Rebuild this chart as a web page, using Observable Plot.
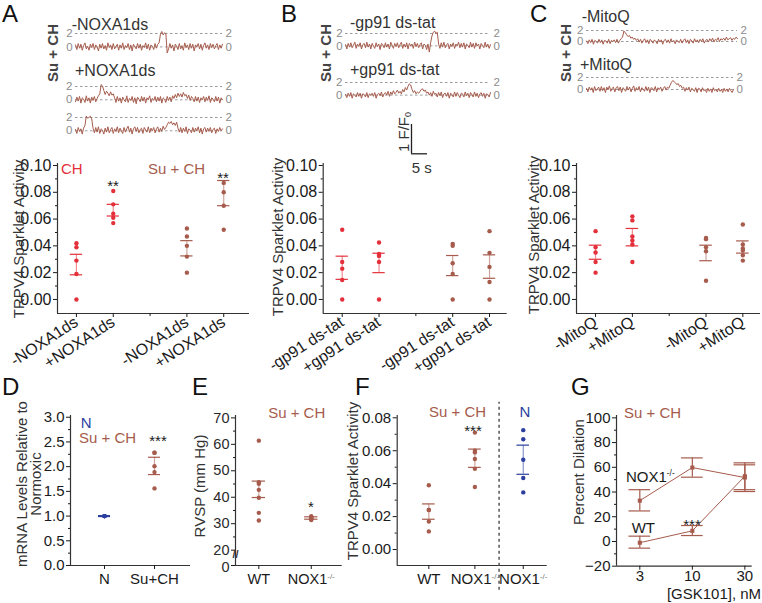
<!DOCTYPE html>
<html><head><meta charset="utf-8">
<script src="https://cdn.jsdelivr.net/npm/d3@7"></script>
<script src="https://cdn.jsdelivr.net/npm/@observablehq/plot@0.6"></script>
<style>
body{margin:0;background:#fff;font-family:"Liberation Sans",Arial,Helvetica,sans-serif;}
#fig{position:relative;width:762px;height:603px;overflow:hidden;background:#fff;}
#fig svg{position:absolute;overflow:visible;background:none !important;}
.lab{position:absolute;white-space:nowrap;line-height:1;pointer-events:none;}
.lab sup{font-size:0.55em;vertical-align:0.7em;line-height:0;}
.lab sub{font-size:0.6em;vertical-align:-0.25em;line-height:0;}
</style></head><body><div id="fig"></div>
<script>
// ---------------- DATA ----------------
const RED = "#e4303a", BROWN = "#a65b4c", BLUE = "#2c3f9e", INK = "#1a1a1a", TGRAY = "#8c8c8c";

// sparklet traces (F/F0)
const traceTicks = [0, 2];
const traceA1 = [0.3,-0.4,0.5,-0.2,0.4,-0.5,0.2,0.6,-0.3,0.1, -0.5,0.4,-0.1,0.5,-0.4,0.3,0.0,-0.6,0.4,-0.2, 0.5,-0.3,0.2,-0.5,0.6,-0.1,0.3,-0.4,0.5,-0.3, 0.1,0.4,-0.5,0.3,-0.2,0.6,-0.4,0.2,-0.1,0.5, -0.4,0.3,-0.6,0.4,0.0,-0.3,0.5,-0.2,0.4,-0.5, 0.2,-0.1,0.6,-0.3,0.4,-0.5,0.3,0.1,-0.4,0.5, -0.2,0.4,0.6,1.9,2.3,1.8,2.1,2.0,-0.9,-0.3, 0.5,-0.2,0.3,-0.6,0.4,0.1,-0.4,0.5,-0.3,0.2, -0.5,0.6,-0.1,0.3,-0.4,0.5,-0.2,0.4,-0.6,0.3, 0.0,0.5,-0.3,0.4,-0.5,0.2,0.6,-0.2,0.3,-0.4, 0.5,-0.1,0.4,-0.3,0.2,0.5,-0.4,0.3,-0.2,0.4];
const traceA2 = [-0.3,0.4,-0.2,0.5,-0.5,0.3,0.1,-0.4,0.6,-0.2, 0.3,-0.5,0.4,-0.1,0.5,-0.3,0.2,0.6,0.9,2.3, 2.1,1.4,0.8,1.3,1.0,0.6,1.2,0.7,0.9,0.3, -0.4,0.5,-0.2,0.3,-0.5,0.4,0.0,-0.3,0.6,-0.4, 0.2,-0.1,0.5,-0.4,0.3,-0.6,0.4,0.1,-0.3,0.5, -0.2,0.4,-0.5,0.3,0.0,0.6,-0.4,0.2,-0.1,0.5, -0.3,0.4,-0.2,0.5,-0.5,0.3,0.1,-0.4,0.5,-0.1, 0.4,-0.3,0.6,0.2,0.8,0.3,1.0,0.5,0.9,0.4, 1.1,0.6,0.8,0.2,0.7,-0.1,0.5,0.2,-0.3,0.5, -0.2,0.4,-0.4,0.3,0.0,0.5,-0.3,0.4,-0.1,0.6, -0.4,0.3,0.1,-0.3,0.5,-0.2,0.4,-0.5,0.3,0.0];
const traceA3 = [0.2,-0.4,0.5,-0.1,0.3,-0.5,0.4,0.8,2.2,1.9, 2.0,2.2,1.8,0.4,-0.3,0.5,-0.2,0.6,-0.4,0.3, 0.1,-0.5,0.4,-0.2,0.6,-0.3,0.2,0.5,-0.4,0.3, -0.1,0.6,-0.3,0.4,0.0,-0.4,0.5,-0.2,0.3,0.7, -0.2,0.4,-0.5,0.3,0.6,-0.1,0.5,-0.3,0.2,0.4, -0.4,0.5,0.1,-0.2,0.6,-0.3,0.4,0.0,0.5,-0.3, 0.3,0.6,-0.2,0.4,-0.1,0.7,0.2,0.5,0.9,1.3, 1.1,1.4,0.9,1.2,0.8,1.3,0.4,-0.2,0.5,-0.3, 0.4,-0.1,0.6,-0.4,0.3,0.1,-0.3,0.5,-0.2,0.4, 0.0,0.6,-0.3,0.4,-0.5,0.3,0.5,-0.2,0.4,-0.1, 0.5,-0.3,0.2,0.4,-0.4,0.3,-0.1,0.5,0.0,0.3];
const traceB1 = [0.2,-0.5,0.4,-0.2,0.5,-0.3,0.1,0.6,-0.4,0.3, -0.1,0.5,-0.5,0.2,0.4,-0.3,0.6,-0.2,0.3,-0.5, 0.4,0.0,-0.4,0.5,-0.1,0.3,-0.6,0.4,0.2,-0.3, 0.5,-0.2,0.3,-0.5,0.6,0.1,-0.4,0.4,-0.1,0.5, -0.3,0.2,0.6,-0.4,0.3,-0.2,0.5,-0.5,0.4,0.0, 0.3,-0.4,0.6,-0.1,0.4,-0.3,0.2,0.5,-0.5,0.3, 0.1,-0.6,0.3,-1.0,0.5,1.6,2.2,2.4,2.0,2.2, 0.3,-0.4,0.5,-0.2,0.6,-0.3,0.2,0.4,-0.5,0.3, -0.1,0.5,-0.4,0.3,0.0,0.6,-0.3,0.4,-0.2,0.5, -0.5,0.3,0.1,-0.3,0.6,-0.2,0.4,-0.4,0.5,0.0, 0.3,-0.5,0.4,0.1,-0.3,0.6,-0.2,0.3,-0.4,0.2];
const traceB2 = [0.1,-0.4,0.3,-0.2,0.4,-0.5,0.2,0.0,-0.3,0.4, -0.2,0.3,-0.5,0.2,0.1,-0.3,0.4,-0.4,0.2,0.0, 0.3,-0.2,0.4,-0.5,0.1,0.3,-0.1,0.5,-0.3,0.2, 0.4,0.0,0.6,-0.2,0.5,0.1,0.7,0.2,0.4,0.8, 0.3,0.6,0.2,0.9,0.5,1.2,0.8,1.4,1.8,1.6, 0.9,0.4,0.7,0.2,0.5,0.3,0.6,0.9,1.0,0.6, 0.8,0.3,0.5,0.0,0.4,-0.2,0.6,0.1,0.3,-0.3, 0.4,-0.1,0.5,-0.4,0.2,0.3,-0.2,0.4,-0.5,0.3, 0.1,-0.3,0.5,-0.2,0.4,0.0,-0.4,0.3,0.2,-0.3, 0.5,-0.1,0.3,-0.4,0.4,0.1,-0.3,0.5,-0.2,0.3, -0.4,0.2,0.4,-0.2,0.3,-0.5,0.2,0.1,-0.3,0.4];
const traceC1 = [0.1,-0.4,0.3,-0.2,0.4,-0.5,0.2,0.0,-0.3,0.4, -0.2,0.3,-0.5,0.2,0.1,-0.3,0.4,-0.4,0.2,0.0, 0.3,-0.2,0.4,-0.3,0.2,0.5,0.8,1.9,1.6,1.2, 0.9,1.1,0.6,0.8,0.4,0.6,0.2,0.5,-0.1,0.4, -0.3,0.2,0.5,-0.2,0.3,-0.4,0.4,0.1,-0.3,0.3, 0.0,-0.4,0.4,-0.1,0.3,-0.5,0.2,0.4,-0.2,0.3, -0.3,0.5,-0.1,0.2,-0.4,0.3,0.0,-0.2,0.4,-0.3, 0.2,0.5,-0.2,0.3,-0.4,0.4,0.1,-0.3,0.5,-0.1, 0.3,-0.2,0.4,0.0,0.5,-0.3,0.2,0.4,-0.1,0.5, 0.1,0.6,-0.1,0.4,0.2,0.7,0.0,0.5,0.3,0.6, 0.2,0.8,0.3,0.5,0.7,0.2,0.6,0.4,0.8,0.5];
const traceC2 = [0.2,-0.4,0.4,-0.1,0.3,-0.5,0.5,-0.2,0.1,0.4, -0.3,0.5,-0.2,0.3,-0.5,0.4,0.0,0.6,-0.3,0.2, 0.4,-0.4,0.3,0.5,-0.2,0.4,-0.5,0.3,0.1,-0.3, 0.5,-0.1,0.4,-0.4,0.2,0.6,-0.3,0.3,-0.1,0.5, -0.4,0.3,0.1,-0.3,0.5,-0.2,0.4,-0.5,0.3,0.2, -0.2,0.5,-0.4,0.3,0.0,0.4,-0.3,0.2,0.5,-0.1, 0.4,0.2,0.7,1.2,1.5,1.3,1.1,0.8,1.0,0.5, 0.7,0.2,0.4,-0.3,0.3,-0.1,0.4,-0.4,0.2,0.0, -0.3,0.3,-0.5,0.2,0.1,-0.4,0.3,-0.2,0.0,-0.5, 0.2,-0.3,0.1,-0.5,0.3,-0.2,0.0,-0.4,0.2,-0.3, 0.0,-0.5,0.2,-0.3,0.1,-0.4,0.2,-0.2,-0.5,0.0];
const scaleBarF = 1, scaleBarS = 5;

// Panel A
const aX = [1, 2, 4, 5];
const aLabels = ["-NOXA1ds", "+NOXA1ds", "-NOXA1ds", "+NOXA1ds"];
const aColors = [RED, RED, BROWN, BROWN];
const aPoints = [[0.042,0.039,0.029,0.019,0.000],[0.081,0.071,0.064,0.061,0.057],[0.053,0.047,0.040,0.032,0.020],[0.087,0.080,0.070,0.052]];
const aLo = [0.0184, 0.0623, 0.0325, 0.070];
const aHi = [0.0337, 0.071, 0.0439, 0.0888];
// Panel B
const bX = [1, 2, 4, 5];
const bLabels = ["-gp91 ds-tat", "+gp91 ds-tat", "-gp91 ds-tat", "+gp91 ds-tat"];
const bColors = [RED, RED, BROWN, BROWN];
const bPoints = [[0.052,0.028,0.023,0.0145,0],[0.0425,0.034,0.0325,0.028,0],[0.0415,0.040,0.027,0.019,0],[0.051,0.0348,0.0243,0.013,0]];
const bLo = [0.015, 0.020, 0.0178, 0.0158];
const bHi = [0.0323, 0.0345, 0.0328, 0.0333];
// Panel C
const cX = [1, 2, 4, 5];
const cLabels = ["-MitoQ", "+MitoQ", "-MitoQ", "+MitoQ"];
const cColors = [RED, RED, BROWN, BROWN];
const cPoints = [[0.051,0.039,0.035,0.028,0.020],[0.062,0.059,0.047,0.044,0.041,0.028],[0.046,0.045,0.039,0.036,0.014],[0.056,0.041,0.038,0.0365,0.033,0.029]];
const cLo = [0.030, 0.040, 0.0289, 0.0346];
const cHi = [0.0405, 0.053, 0.0405, 0.0437];
const sparkTicks = [0, 0.02, 0.04, 0.06, 0.08, 0.10];
const sparkMinor = [0.01, 0.03, 0.05, 0.07, 0.09];
// Panel D
const dX = [0, 1];
const dLabels = ["N", "Su+CH"];
const dColors = [BLUE, BROWN];
const dPoints = [[1.0,1.0,1.0,1.0,1.0],[2.28,2.28,2.01,1.89,1.56]];
const dLo = [0.99, 1.84];
const dHi = [1.01, 2.19];
const dTicks = [0, 0.5, 1.0, 1.5, 2.0, 2.5, 3.0];
const dMinor = [0.25, 0.75, 1.25, 1.75, 2.25, 2.75];
// Panel E (axis broken between 0 and 20)
const eX = [0, 1];
const eLabels = ["WT", "NOX1-/-"];
const eColors = [BROWN, BROWN];
const ePoints = [[61.4,45.7,45.1,42.8,39.8,34.1,31.2],[32.8,32.5,32.2,32.0,31.7,31.4]];
const eLo = [39.9, 31.7];
const eHi = [46.1, 32.6];
const eTicks = [20, 30, 40, 50, 60, 70];
const eMinor = [25, 35, 45, 55, 65];
const eZeroAt = 14.2;   // axis origin, labelled "0" below the break
const eBreakAt = 18.3;
// Panel F
const fX = [1, 2, 3.05];
const fLabels = ["WT", "NOX1-/-", "NOX1-/-"];
const fColors = [BROWN, BROWN, BLUE];
const fPoints = [[0.039,0.024,0.024,0.017,0.011],[0.071,0.060,0.059,0.055,0.049,0.038],[0.0725,0.067,0.0545,0.0434,0.0347]];
const fLo = [0.0184, 0.0499, 0.0457];
const fHi = [0.0277, 0.061, 0.0634];
const fTicks = [0, 0.02, 0.04, 0.06, 0.08];
const fMinor = [0.01, 0.03, 0.05, 0.07];
// Panel G
const gDose = ["3", "10", "30"];
const gWT = [-1, 8.6, 52.8];
const gWTlo = [-5.4, 4.8, 40.4];
const gWThi = [4.3, 12.9, 63.6];
const gNOX = [33, 59.8, 51.7];
const gNOXlo = [24.7, 52, 41.9];
const gNOXhi = [41.9, 67.6, 62];
const gTicks = [-20, 0, 20, 40, 60, 80, 100];
const gMinor = [-10, 10, 30, 50, 70, 90];

// ---------------- HELPERS ----------------
const FONT = '"Liberation Sans", Arial, Helvetica, sans-serif';
const fig = document.getElementById("fig");
function style(size) {
  return {background: "none", fontFamily: FONT, fontSize: size + "px", color: INK, overflow: "visible"};
}
function place(node, left, top) {
  node.style.position = "absolute";
  node.style.left = left + "px";
  node.style.top = top + "px";
  node.style.background = "none";
  fig.appendChild(node);
}
function label(html, x, y, o = {}) {
  const d = document.createElement("div");
  d.className = "lab";
  d.innerHTML = html;
  d.style.fontSize = (o.size || 15) + "px";
  d.style.color = o.color || INK;
  d.style.fontWeight = o.weight || "normal";
  if (o.lh) { d.style.lineHeight = o.lh; d.style.textAlign = "center"; }
  const a = o.anchor || "start";
  const tx = a === "start" ? "0%" : a === "middle" ? "-50%" : "-100%";
  d.style.left = x + "px";
  d.style.top = y + "px";
  d.style.transform = `translate(${tx},-50%)` + (o.rotate ? ` rotate(${o.rotate}deg)` : "");
  fig.appendChild(d);
}
function supFix(svg) {
  svg.querySelectorAll("text").forEach(t => {
    if (t.textContent === "NOX1-/-") {
      t.textContent = "NOX1";
      const ts = document.createElementNS("http://www.w3.org/2000/svg", "tspan");
      ts.setAttribute("dy", "-0.6em");
      ts.setAttribute("font-size", "8");
      ts.setAttribute("fill", "#777");
      ts.textContent = "-/-";
      t.appendChild(ts);
    }
  });
}
function tracePlot(vals, x0, x1, y2, y0) {
  const pad = 18, n = vals.length;
  const w = (x1 - x0) + 2 * pad, h = (y0 - y2) + 20;
  const svg = Plot.plot({
    width: w, height: h, margin: 0, style: style(11),
    x: {domain: [0, n - 1], range: [pad, pad + x1 - x0], axis: null},
    y: {domain: [0, 2], range: [10 + (y0 - y2), 10], axis: null},
    marks: [
      Plot.ruleY(traceTicks, {y: d => d, x1: () => 0, x2: () => n - 1, stroke: "#9a9a9a", strokeDasharray: "2.5,2.5"}),
      Plot.text(traceTicks, {y: d => d, x: () => 0, text: d => String(d), textAnchor: "end", dx: -3, fill: TGRAY, fontSize: 11.5}),
      Plot.text(traceTicks, {y: d => d, x: () => n - 1, text: d => String(d), textAnchor: "start", dx: 3, fill: TGRAY, fontSize: 11.5}),
      Plot.line(vals, {x: (d, i) => i, y: d => d, stroke: BROWN, strokeWidth: 1})
    ]
  });
  place(svg, x0 - pad, y2 - 10);
}
function scatter(c) {
  const pts = c.points.flatMap((arr, i) => arr.map(v => ({x: c.xs[i], y: v, c: c.colors[i]})));
  const bars = c.xs.map((x, i) => ({x, lo: c.lo[i], hi: c.hi[i], c: c.colors[i]}));
  const lab = new Map(c.xs.map((x, i) => [x, c.labels[i]]));
  const h = c.capHalf;
  const fs = c.tickFont || 15;
  const svg = Plot.plot({
    width: c.width, height: c.height,
    marginLeft: c.mL, marginRight: c.mR, marginTop: c.mT, marginBottom: c.mB,
    style: style(15),
    x: {domain: c.xDomain}, y: {domain: c.yDomain}, color: {type: "identity"},
    marks: [
      Plot.ruleX([c.xDomain[0]], {stroke: "#333", strokeWidth: 1.2}),
      Plot.ruleY([c.yDomain[0]], {stroke: "#333", strokeWidth: 1.2}),
      Plot.axisY(c.yTicks, {tickFormat: c.yFormat, tickSize: 4, tickPadding: 2, label: null, fontSize: fs, fill: c.yFill || INK}),
      Plot.axisY(c.yMinor, {tickFormat: () => "", tickSize: 2, label: null}),
      Plot.axisX(c.xs, {tickFormat: d => lab.get(d), tickRotate: c.rotate || 0, tickSize: 4, tickPadding: c.rotate ? 3 : 4, label: null, fontSize: fs}),
      ...(c.xMinor ? [Plot.axisX(c.xMinor, {tickFormat: () => "", tickSize: 3, label: null})] : []),
      Plot.ruleX(bars, {x: "x", y1: "lo", y2: "hi", stroke: "c", strokeOpacity: 0.55, strokeWidth: 1.2}),
      Plot.ruleY(bars, {y: "lo", x1: d => d.x - h, x2: d => d.x + h, stroke: "c", strokeWidth: 1.2}),
      Plot.ruleY(bars, {y: "hi", x1: d => d.x - h, x2: d => d.x + h, stroke: "c", strokeWidth: 1.2}),
      Plot.dot(pts, {x: "x", y: "y", fill: "c", r: 2.2}),
      ...(c.extra || [])
    ]
  });
  supFix(svg);
  place(svg, c.left, c.top);
  return svg;
}

// ---------------- PANEL LETTERS ----------------
[["A", 2, 13.5], ["B", 281, 13.5], ["C", 530, 13.5], ["D", 2, 387], ["E", 192, 387], ["F", 355, 387], ["G", 571, 387]]
  .forEach(([t, x, y]) => label(t, x, y, {size: 24, color: "#111"}));

// ---------------- TRACES ----------------
tracePlot(traceA1, 75, 222, 33.3, 46.7);
tracePlot(traceA2, 75, 222, 85.7, 99);
tracePlot(traceA3, 75, 222, 116.7, 130);
tracePlot(traceB1, 345, 490, 33.3, 45.7);
tracePlot(traceB2, 345, 490, 81.7, 94.3);
tracePlot(traceC1, 586, 737, 29.5, 40.5);
tracePlot(traceC2, 586, 733, 77.3, 89.3);

label("-NOXA1ds", 71.7, 25, {size: 16, color: "#333"});
label("+NOXA1ds", 75, 70.5, {size: 16, color: "#333"});
label("-gp91 ds-tat", 350, 23, {size: 16, color: "#333"});
label("+gp91 ds-tat", 350, 69.5, {size: 16, color: "#333"});
label("-MitoQ", 581.7, 16.5, {size: 16, color: "#333"});
label("+MitoQ", 580, 64.5, {size: 16, color: "#333"});
label("Su + CH", 51.7, 53, {size: 15, weight: "bold", color: "#444", anchor: "middle", rotate: -90});
label("Su + CH", 325, 53, {size: 15, weight: "bold", color: "#444", anchor: "middle", rotate: -90});
label("Su + CH", 565, 53, {size: 15, weight: "bold", color: "#444", anchor: "middle", rotate: -90});

// scale bar
{
  const sb = Plot.plot({
    width: 40, height: 50, margin: 0, style: style(12),
    x: {domain: [0, scaleBarS], range: [10, 26], axis: null},
    y: {domain: [0, scaleBarF], range: [39.3, 10], axis: null},
    marks: [
      Plot.ruleX([0], {y1: () => 0, y2: () => scaleBarF, stroke: "#222", strokeWidth: 1.3}),
      Plot.ruleY([0], {x1: () => 0, x2: () => scaleBarS, stroke: "#222", strokeWidth: 1.3})
    ]
  });
  place(sb, 400.7, 114);
  label("1 F/F<sub>0</sub>", 403, 131.7, {size: 15, color: "#333", anchor: "middle", rotate: -90});
  label("5 s", 421.7, 166.7, {size: 15, color: "#333", anchor: "middle"});
}

// ---------------- A, B, C scatter ----------------
const sparkFmt = d3.format(".2f");
scatter({left: 0, top: 150, width: 255, height: 240, mL: 57, mR: 6, mT: 13, mB: 77,
  xDomain: [0.486, 5.7], yDomain: [-0.0105, 0.1015], xs: aX, labels: aLabels, colors: aColors,
  points: aPoints, lo: aLo, hi: aHi, yTicks: sparkTicks, yMinor: sparkMinor, yFormat: sparkFmt,
  rotate: -33, capHalf: 0.167, xMinor: [3], tickFont: 16});
scatter({left: 260, top: 150, width: 250, height: 240, mL: 62.7, mR: 3.3, mT: 13, mB: 77,
  xDomain: [0.484, 5.48], yDomain: [-0.0105, 0.1015], xs: bX, labels: bLabels, colors: bColors,
  points: bPoints, lo: bLo, hi: bHi, yTicks: sparkTicks, yMinor: sparkMinor, yFormat: sparkFmt,
  rotate: -33, capHalf: 0.167, xMinor: [3], tickFont: 16});
scatter({left: 500, top: 150, width: 262, height: 240, mL: 76, mR: 2, mT: 13, mB: 77,
  xDomain: [0.482, 5.48], yDomain: [-0.0105, 0.1015], xs: cX, labels: cLabels, colors: cColors,
  points: cPoints, lo: cLo, hi: cHi, yTicks: sparkTicks, yMinor: sparkMinor, yFormat: sparkFmt,
  rotate: -33, capHalf: 0.17, xMinor: [3], tickFont: 16});
label("TRPV4 Sparklet Activity", 18, 239, {size: 15, color: "#333", anchor: "middle", rotate: -90});
label("TRPV4 Sparklet Activity", 277, 237, {size: 15, color: "#333", anchor: "middle", rotate: -90});
label("TRPV4 Sparklet Activity", 532.5, 235, {size: 15, color: "#333", anchor: "middle", rotate: -90});
label("CH", 61, 168, {size: 15, color: RED});
label("Su + CH", 148, 168, {size: 15, color: BROWN});
label("**", 113, 184.5, {size: 15, anchor: "middle"});
label("**", 223, 177, {size: 15, anchor: "middle"});

// ---------------- D ----------------
scatter({left: 0, top: 395, width: 195, height: 208, mL: 70, mR: 5, mT: 20, mB: 38,
  xDomain: [-0.68, 1.72], yDomain: [0, 3.035], xs: dX, labels: dLabels, colors: dColors,
  points: dPoints, lo: dLo, hi: dHi, yTicks: dTicks, yMinor: dMinor, yFormat: d3.format(".1f"),
  capHalf: 0.12});
label("mRNA Levels Relative to<br>Normoxic", 29.3, 484, {size: 15, color: "#333", anchor: "middle", rotate: -90, lh: "0.93"});
label("N", 80.7, 421.7, {size: 15, color: BLUE});
label("Su + CH", 79, 437, {size: 15, color: BROWN});
label("***", 158, 439.5, {size: 15, anchor: "middle"});

// ---------------- E ----------------
label("RVSP (mm Hg)", 199, 486, {size: 15, color: "#333", anchor: "middle", rotate: -90});
label("Su + CH", 296.7, 411.5, {size: 15, color: BROWN, anchor: "middle"});
label("*", 311, 505.5, {size: 15, anchor: "middle"});
scatter({left: 190, top: 395, width: 195, height: 208, mL: 45, mR: 43.3, mT: 20, mB: 38,
  xDomain: [-0.445, 1.59], yDomain: [eZeroAt, 70.9], xs: eX, labels: eLabels, colors: eColors,
  points: ePoints, lo: eLo, hi: eHi, yTicks: eTicks, yMinor: eMinor, yFormat: d3.format("d"),
  capHalf: 0.127, yFill: "#2a2a2a", tickFont: 14.5,
  extra: [
    Plot.axisY([eZeroAt], {tickFormat: () => "", tickSize: 4, label: null}),
    Plot.text([eZeroAt], {frameAnchor: "left", y: d => d, text: () => "0", dx: -6, dy: 2, textAnchor: "end",
      fontSize: 14.5, fill: "#2a2a2a"}),
    Plot.text(["//"], {frameAnchor: "left", y: () => eBreakAt, text: d => d, fontSize: 11, fontWeight: "bold",
      fill: "#333", textAnchor: "middle"})
  ]});

// ---------------- F ----------------
{
  const fDomain = [-0.0097, 0.0814];
  const fDivider = (fX[1] + fX[2]) / 2;
  scatter({left: 350, top: 395, width: 210, height: 208, mL: 46.7, mR: 13.3, mT: 20, mB: 38,
    xDomain: [0.313, 3.57], yDomain: fDomain, xs: fX, labels: fLabels, colors: fColors,
    points: fPoints, lo: fLo, hi: fHi, yTicks: fTicks, yMinor: fMinor, yFormat: sparkFmt, capHalf: 0.137,
    extra: [Plot.ruleX([fDivider], {y1: () => fDomain[0] - 0.015, y2: () => fDomain[1] + 0.008,
      stroke: "#555", strokeWidth: 1.5, strokeDasharray: "3,3"})]});
}
label("TRPV4 Sparklet Activity", 352, 481, {size: 15, color: "#333", anchor: "middle", rotate: -90});
label("Su + CH", 457.5, 411.3, {size: 15, color: BROWN, anchor: "middle"});
label("N", 525, 411.3, {size: 15, color: BLUE, anchor: "middle"});
label("***", 473, 429.5, {size: 15, anchor: "middle"});

// ---------------- G ----------------
{
  const rows = [
    ...gWT.map((v, i) => ({k: "WT", x: i, y: v, lo: gWTlo[i], hi: gWThi[i]})),
    ...gNOX.map((v, i) => ({k: "NOX1", x: i, y: v, lo: gNOXlo[i], hi: gNOXhi[i]}))
  ];
  const xi = gDose.map((d, i) => i);
  const h = 0.206;
  const gDomain = [-20, 101.9];
  const gX = [-0.444, 2.14];
  const svg = Plot.plot({
    width: 187, height: 208, marginLeft: 41, marginRight: 10.3, marginTop: 20, marginBottom: 37.3,
    style: style(15),
    x: {domain: gX}, y: {domain: gDomain},
    marks: [
      Plot.ruleX([gX[0]], {stroke: "#333", strokeWidth: 1.2}),
      Plot.ruleY([gDomain[0]], {stroke: "#333", strokeWidth: 1.2}),
      Plot.axisY(gTicks, {tickSize: 4, tickPadding: 2, label: null, fontSize: 15}),
      Plot.axisY(gMinor, {tickFormat: () => "", tickSize: 2, label: null}),
      Plot.axisX(xi, {tickFormat: i => gDose[i], tickSize: 4, tickPadding: 0, label: null, fontSize: 15}),
      Plot.line(rows, {x: "x", y: "y", z: "k", stroke: BROWN, strokeWidth: 1}),
      Plot.ruleX(rows, {x: "x", y1: "lo", y2: "hi", stroke: BROWN, strokeWidth: 1.2}),
      Plot.ruleY(rows, {y: "lo", x1: d => d.x - h, x2: d => d.x + h, stroke: BROWN, strokeWidth: 1.2}),
      Plot.ruleY(rows, {y: "hi", x1: d => d.x - h, x2: d => d.x + h, stroke: BROWN, strokeWidth: 1.2}),
      Plot.dot(rows, {x: "x", y: "y", symbol: "square", r: 2.3, fill: BROWN})
    ]
  });
  place(svg, 575, 395);
}
label("Percent Dilation", 577.5, 471.5, {size: 15, color: "#333", anchor: "middle", rotate: -90});
label("Su + CH", 624, 411.7, {size: 15, color: BROWN});
label("NOX1<sup>-/-</sup>", 626, 476, {size: 15, color: INK});
label("WT", 631.7, 526.7, {size: 15, color: INK});
label("***", 692, 523.5, {size: 15, anchor: "middle"});
label("[GSK101], nM", 714, 592.5, {size: 15, color: INK, anchor: "middle"});
</script></body></html>
